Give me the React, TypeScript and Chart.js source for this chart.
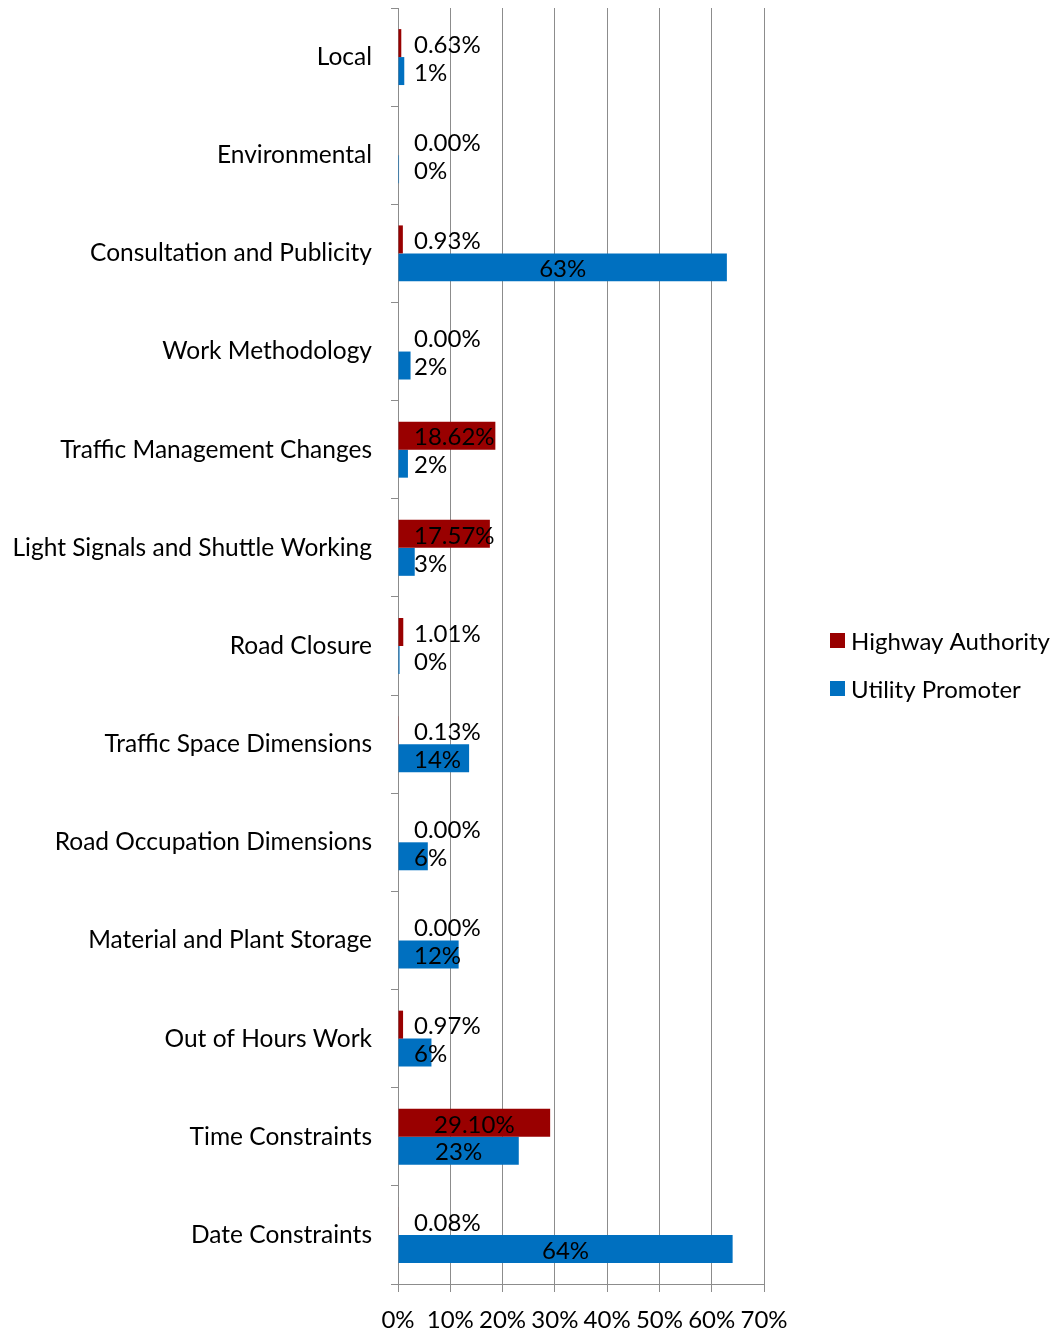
import React, { useEffect, useRef } from "react";
import { Chart, registerables } from "chart.js";

Chart.register(...registerables);

const categories = [
  "Local",
  "Environmental",
  "Consultation and Publicity",
  "Work Methodology",
  "Traffic Management Changes",
  "Light Signals and Shuttle Working",
  "Road Closure",
  "Traffic Space Dimensions",
  "Road Occupation Dimensions",
  "Material and Plant Storage",
  "Out of Hours Work",
  "Time Constraints",
  "Date Constraints",
];

const highwayAuthority = [0.63, 0.0, 0.93, 0.0, 18.62, 17.57, 1.01, 0.13, 0.0, 0.0, 0.97, 29.1, 0.08];
const utilityPromoter = [1.2, 0.2, 62.9, 2.4, 1.9, 3.2, 0.3, 13.6, 5.7, 11.6, 6.4, 23.1, 64.0];

const xTicks = [0, 10, 20, 30, 40, 50, 60, 70];

const seriesNames = ["Highway Authority", "Utility Promoter"];
const seriesColors = ["#990000", "#0070C0"];
const labelDecimals = [2, 0];

const FONT_FAMILY = "Lato, 'Open Sans', sans-serif";
const FONT_SIZE = 24;
const CAT_FONT_SIZE = 24.5;

const dataLabelPlugin = {
  id: "dataLabels",
  afterDatasetsDraw(chart: any) {
    const ctx = chart.ctx;
    const x0 = chart.scales.x.getPixelForValue(0);
    ctx.save();
    ctx.font = `${FONT_SIZE}px ${FONT_FAMILY}`;
    ctx.fillStyle = "#000";
    ctx.textBaseline = "middle";
    ctx.textAlign = "left";
    chart.data.datasets.forEach((ds: any, di: number) => {
      const meta = chart.getDatasetMeta(di);
      meta.data.forEach((el: any, i: number) => {
        const v = ds.data[i];
        const txt = v.toFixed(labelDecimals[di]) + "%";
        const w = ctx.measureText(txt).width;
        const center = (el.x + el.base) / 2;
        const left = Math.max(center - w / 2, x0 + 16);
        ctx.fillText(txt, left, el.y + 2);
      });
    });
    ctx.restore();
  },
};

const legendPlugin = {
  id: "customLegend",
  afterDraw(chart: any) {
    const ctx = chart.ctx;
    ctx.save();
    ctx.font = `${FONT_SIZE}px ${FONT_FAMILY}`;
    ctx.textBaseline = "middle";
    ctx.textAlign = "left";
    const ys = [641, 689];
    seriesNames.forEach((name, i) => {
      ctx.fillStyle = seriesColors[i];
      ctx.fillRect(830, ys[i] - 8, 15, 15);
      ctx.fillStyle = "#000";
      ctx.fillText(name, 851, ys[i] + 1);
    });
    ctx.restore();
  },
};

export default function App() {
  const ref = useRef<HTMLCanvasElement>(null);
  useEffect(() => {
    document.body.style.margin = "0";
    const canvas = ref.current!;
    const chart = new Chart(canvas, {
      type: "bar",
      data: {
        labels: categories,
        datasets: [
          {
            label: seriesNames[0],
            data: highwayAuthority,
            backgroundColor: seriesColors[0],
            borderWidth: 0,
            barPercentage: 1,
            categoryPercentage: 0.57,
          },
          {
            label: seriesNames[1],
            data: utilityPromoter,
            backgroundColor: seriesColors[1],
            borderWidth: 0,
            barPercentage: 1,
            categoryPercentage: 0.57,
          },
        ],
      },
      options: {
        indexAxis: "y",
        responsive: false,
        animation: false,
        devicePixelRatio: 1,
        layout: { padding: { left: 0, right: 294, top: 8, bottom: 0 } },
        plugins: {
          legend: { display: false },
          tooltip: { enabled: false },
        },
        scales: {
          x: {
            min: 0,
            max: 70,
            afterBuildTicks: (scale: any) => {
              scale.ticks = xTicks.map((v) => ({ value: v }));
            },
            afterFit: (scale: any) => {
              scale.height = 49;
              scale.paddingLeft = 0;
              scale.paddingRight = 0;
            },
            ticks: {
              callback: (v: any) => v + "%",
              color: "#000",
              font: { family: FONT_FAMILY, size: FONT_SIZE },
              padding: 14,
              maxRotation: 0,
              autoSkip: false,
            },
            grid: {
              color: "#8c8c8c",
              lineWidth: 1,
              drawTicks: true,
              tickLength: 8,
            },
            border: { color: "#8c8c8c", width: 1 },
          },
          y: {
            afterFit: (scale: any) => {
              scale.width = 398;
              scale.paddingTop = 0;
              scale.paddingBottom = 0;
            },
            ticks: {
              color: "#000",
              font: { family: FONT_FAMILY, size: CAT_FONT_SIZE },
              padding: 19,
              autoSkip: false,
            },
            grid: {
              offset: true,
              drawOnChartArea: false,
              drawTicks: true,
              tickLength: 7,
              color: "#8c8c8c",
            },
            border: { color: "#8c8c8c", width: 1 },
          },
        },
      },
      plugins: [dataLabelPlugin, legendPlugin],
    });
    return () => chart.destroy();
  }, []);
  return <canvas ref={ref} width={1058} height={1333} style={{ display: "block" }} />;
}
